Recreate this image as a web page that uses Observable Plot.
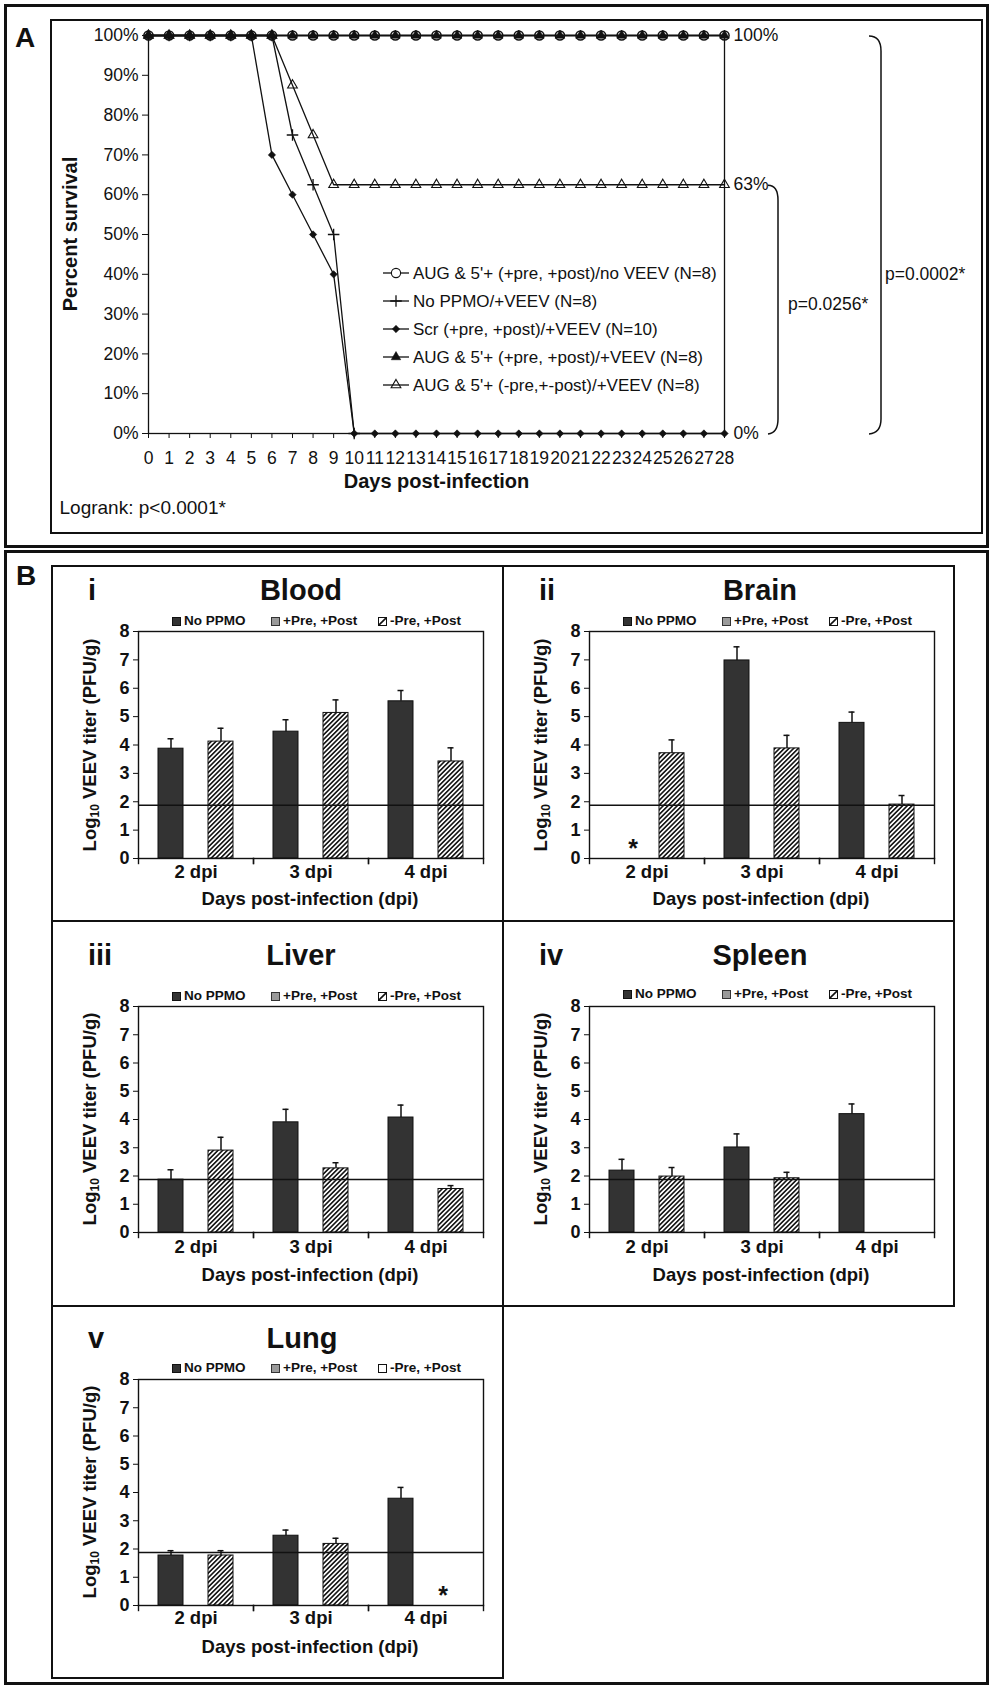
<!DOCTYPE html>
<html><head><meta charset="utf-8">
<script src="https://cdn.jsdelivr.net/npm/d3@7"></script>
<script src="https://cdn.jsdelivr.net/npm/@observablehq/plot@0.6"></script>
<style>
body{margin:0;background:#fff;}
#fig{position:relative;width:993px;height:1686px;font-family:"Liberation Sans",Arial,Helvetica,sans-serif;color:#111;overflow:hidden;background:#fff;}
.box{position:absolute;box-sizing:border-box;border-style:solid;border-color:#111;pointer-events:none;}
.t{position:absolute;white-space:nowrap;line-height:1;}
.sw{position:absolute;box-sizing:border-box;width:9px;height:9px;border:1px solid #111;}
</style></head><body>
<svg width="0" height="0" style="position:absolute">
<defs>
<pattern id="hatch" patternUnits="userSpaceOnUse" width="3.3" height="3.3" patternTransform="rotate(45)">
<rect width="3.3" height="3.3" fill="#fff"/>
<line x1="1.65" y1="-1" x2="1.65" y2="4.3" stroke="#111" stroke-width="1.6"/>
</pattern>
</defs></svg>
<div id="fig"></div>
<script>
// ---------------- DATA: panel A (survival) ----------------
const days = [0,1,2,3,4,5,6,7,8,9,10,11,12,13,14,15,16,17,18,19,20,21,22,23,24,25,26,27,28];
const yTicksA = [0,10,20,30,40,50,60,70,80,90,100];
const survivalSeries = [
  "AUG & 5'+ (+pre, +post)/no VEEV (N=8)",
  "No PPMO/+VEEV (N=8)",
  "Scr (+pre, +post)/+VEEV (N=10)",
  "AUG & 5'+ (+pre, +post)/+VEEV (N=8)",
  "AUG & 5'+ (-pre,+-post)/+VEEV (N=8)"
];
const survAugNoVeev  = [100,100,100,100,100,100,100,100,100,100,100,100,100,100,100,100,100,100,100,100,100,100,100,100,100,100,100,100,100];
const survNoPpmo     = [100,100,100,100,100,100,100,75,62.5,50,0];
const survScr        = [100,100,100,100,100,100,70,60,50,40,0,0,0,0,0,0,0,0,0,0,0,0,0,0,0,0,0,0,0];
const survAugPrePost = [100,100,100,100,100,100,100,100,100,100,100,100,100,100,100,100,100,100,100,100,100,100,100,100,100,100,100,100,100];
const survAugPost    = [100,100,100,100,100,100,100,87.5,75,62.5,62.5,62.5,62.5,62.5,62.5,62.5,62.5,62.5,62.5,62.5,62.5,62.5,62.5,62.5,62.5,62.5,62.5,62.5,62.5];
const logrankText = "Logrank: p<0.0001*";
const pLabels = ["p=0.0256*", "p=0.0002*"];
const pFrom = [62.5, 100];
const pTo = [0, 0];

// ---------------- DATA: panel B (titers) ----------------
const dpi = ["2 dpi", "3 dpi", "4 dpi"];
const treatments = ["No PPMO", "+Pre, +Post", "-Pre, +Post"];
const yTicksB = [0,1,2,3,4,5,6,7,8];
const detectionLimit = 1.88;
const prePostTiter = [null, null, null];

const bloodNoPPMO = [3.87, 4.47, 5.54],  bloodNoPPMOErr = [0.35, 0.42, 0.38];
const bloodMinusPre = [4.12, 5.13, 3.42], bloodMinusPreErr = [0.47, 0.46, 0.48];
const brainNoPPMO = [null, 6.98, 4.78],   brainNoPPMOErr = [null, 0.48, 0.38];
const brainMinusPre = [3.71, 3.88, 1.90], brainMinusPreErr = [0.47, 0.46, 0.32];
const liverNoPPMO = [1.87, 3.90, 4.07],   liverNoPPMOErr = [0.35, 0.46, 0.44];
const liverMinusPre = [2.90, 2.27, 1.54], liverMinusPreErr = [0.47, 0.20, 0.12];
const spleenNoPPMO = [2.19, 3.01, 4.19],  spleenNoPPMOErr = [0.40, 0.48, 0.36];
const spleenMinusPre = [1.98, 1.92, null],spleenMinusPreErr = [0.32, 0.21, null];
const lungNoPPMO = [1.77, 2.47, 3.78],    lungNoPPMOErr = [0.17, 0.20, 0.40];
const lungMinusPre = [1.77, 2.18, null],  lungMinusPreErr = [0.17, 0.20, null];
const brainStars = [["2 dpi", "No PPMO"]];
const lungStars = [["4 dpi", "-Pre, +Post"]];

// ---------------- helpers ----------------
const FONT = '"Liberation Sans", Arial, Helvetica, sans-serif';
const INK = "#111";
const fig = document.getElementById("fig");
function box(x1, y1, x2, y2, w) {
  const d = document.createElement("div");
  d.className = "box";
  Object.assign(d.style, {left: (x1 - w / 2) + "px", top: (y1 - w / 2) + "px",
    width: (x2 - x1 + w) + "px", height: (y2 - y1 + w) + "px", borderWidth: w + "px"});
  fig.appendChild(d);
}
function txt(str, x, y, o = {}) {
  const d = document.createElement("div");
  d.className = "t";
  if (o.html) d.innerHTML = str; else d.textContent = str;
  const ax = o.anchor === "start" ? "0" : o.anchor === "end" ? "-100%" : "-50%";
  Object.assign(d.style, {left: x + "px", top: y + "px", fontSize: (o.size || 17) + "px",
    fontWeight: o.weight || "normal",
    transform: `translate(${ax},-50%)` + (o.rotate ? ` rotate(${o.rotate}deg)` : "")});
  fig.appendChild(d);
  return d;
}
function place(el, x, y) {
  el.style.position = "absolute";
  el.style.left = x + "px";
  el.style.top = y + "px";
  fig.appendChild(el);
}

// ---------------- PANEL A ----------------
const survValues = [survAugNoVeev, survNoPpmo, survScr, survAugPrePost, survAugPost];
const survRows = [];
survValues.forEach((vals, s) => vals.forEach((v, i) => survRows.push({series: survivalSeries[s], day: days[i], pct: v})));
const finals = Array.from(new Set(survValues.map(v => v[v.length - 1]))).map(p => ({day: days[days.length - 1], pct: p}));
const markerStyles = [
  {symbol: "circle", r: 4.6, fill: "none", stroke: INK, strokeWidth: 1.5},
  {symbol: "plus", r: 3.8, fill: "none", stroke: INK, strokeWidth: 1.3},
  {symbol: "diamond2", r: 3.3, fill: INK, stroke: INK, strokeWidth: 0.6},
  {symbol: "triangle", r: 3.5, fill: INK, stroke: INK, strokeWidth: 0.6},
  {symbol: "triangle", r: 3.6, fill: "none", stroke: INK, strokeWidth: 1.1}
];

const bracketMark = (index, scales) => {
  const ns = "http://www.w3.org/2000/svg";
  const g = document.createElementNS(ns, "g");
  const x28 = scales.x(days[days.length - 1]);
  const offs = [54, 157], labOff = [10, 4], labFrac = [0.52, 0.4], hook = [10, 12];
  pLabels.forEach((lab, k) => {
    const xb = x28 + offs[k];
    const yT = scales.y(pFrom[k]), yB = scales.y(pTo[k]);
    const h = hook[k];
    const p = document.createElementNS(ns, "path");
    p.setAttribute("d", `M${xb - h},${yT + 1} Q${xb},${yT + 1} ${xb},${yT + 16} L${xb},${yB - 14} Q${xb},${yB} ${xb - h},${yB + 1}`);
    p.setAttribute("fill", "none"); p.setAttribute("stroke", INK); p.setAttribute("stroke-width", "1.5");
    g.appendChild(p);
    const t = document.createElementNS(ns, "text");
    t.setAttribute("x", xb + labOff[k]);
    t.setAttribute("y", yT + (yB - yT) * (1 - labFrac[k]));
    t.setAttribute("dy", "0.35em");
    t.setAttribute("text-anchor", "start");
    t.setAttribute("font-size", "17.5");
    t.textContent = lab;
    g.appendChild(t);
  });
  return g;
};

const plotA = Plot.plot({
  width: 929, height: 512,
  marginLeft: 96, marginRight: 257, marginTop: 15, marginBottom: 99,
  style: {fontFamily: FONT, fontSize: "17.5px", color: INK, background: "transparent", overflow: "visible"},
  x: {domain: [days[0], days[days.length - 1]], ticks: days, tickSize: 5, tickPadding: 13, tickFormat: d => String(d), label: null},
  y: {domain: [0, 100], ticks: yTicksA, tickSize: 6, tickPadding: 4, tickFormat: d => d + "%", label: null},
  marks: [
    Plot.frame({stroke: INK, strokeWidth: 1.3}),
    Plot.line(survRows, {x: "day", y: "pct", z: "series", stroke: INK, strokeWidth: 1.3}),
    ...survivalSeries.map((name, s) => Plot.dot(survRows.filter(d => d.series === name), {x: "day", y: "pct", ...markerStyles[s]})),
    Plot.text(finals, {x: "day", y: "pct", text: d => Math.round(d.pct) + "%", dx: 9, textAnchor: "start"}),
    Plot.text(["Days post-infection"], {text: d => d, frameAnchor: "bottom", dy: 54, fontWeight: "bold", fontSize: 20}),
    Plot.text([logrankText], {text: d => d, frameAnchor: "bottom-left", dx: -89, dy: 80, textAnchor: "start", fontSize: 19}),
    bracketMark
  ]
});
place(plotA, 52, 20);
txt("Percent survival", 70, 234, {size: 20, weight: "bold", rotate: -90});

// legend A
survivalSeries.forEach((name, s) => {
  const y = 273 + s * 28;
  const ns = "http://www.w3.org/2000/svg";
  const sv = document.createElementNS(ns, "svg");
  sv.setAttribute("width", 28); sv.setAttribute("height", 16);
  sv.style.position = "absolute"; sv.style.left = "382px"; sv.style.top = (y - 8) + "px";
  const ln = document.createElementNS(ns, "line");
  ln.setAttribute("x1", 1); ln.setAttribute("x2", 27); ln.setAttribute("y1", 8); ln.setAttribute("y2", 8);
  ln.setAttribute("stroke", INK); ln.setAttribute("stroke-width", 1.3);
  sv.appendChild(ln);
  const ms = markerStyles[s];
  const types = {circle: d3.symbolCircle, plus: d3.symbolPlus, diamond2: d3.symbolDiamond2, triangle: d3.symbolTriangle};
  const p = document.createElementNS(ns, "path");
  p.setAttribute("d", d3.symbol(types[ms.symbol], Math.PI * ms.r * ms.r)());
  p.setAttribute("transform", "translate(14,8)");
  p.setAttribute("fill", ms.symbol === "circle" ? "#fff" : ms.fill);
  p.setAttribute("stroke", ms.stroke); p.setAttribute("stroke-width", ms.symbol === "circle" ? 1.1 : ms.strokeWidth);
  sv.appendChild(p);
  fig.appendChild(sv);
  txt(name, 413, y, {anchor: "start", size: 17});
});

// ---------------- PANEL B ----------------
function barPanel(c) {
  const rows = [];
  dpi.forEach((d, i) => {
    if (c.noPPMO[i] != null) rows.push({day: d, treatment: treatments[0], value: c.noPPMO[i], err: c.noPPMOErr[i]});
    if (prePostTiter[i] != null) rows.push({day: d, treatment: treatments[1], value: prePostTiter[i], err: 0});
    if (c.minusPre[i] != null) rows.push({day: d, treatment: treatments[2], value: c.minusPre[i], err: c.minusPreErr[i]});
  });
  const stars = (c.stars || []).map(([day, t]) => ({day, treatment: t}));
  const plotH = c.h - c.mt - c.mb;
  const svg = Plot.plot({
    width: 451, height: c.h,
    marginLeft: 85, marginRight: 20, marginTop: c.mt, marginBottom: c.mb,
    style: {fontFamily: FONT, fontSize: "18px", fontWeight: "bold", color: INK, background: "transparent", overflow: "visible"},
    fx: {domain: dpi, padding: 0, axis: null},
    x: {domain: treatments, paddingInner: 0, paddingOuter: 0.72, axis: null},
    y: {domain: [0, 8], ticks: yTicksB, tickSize: 5, tickPadding: 4, label: null},
    color: {domain: treatments, range: ["#333", "#999", "url(#hatch)"]},
    marks: [
      Plot.barY(rows, {fx: "day", x: "treatment", y: "value", fill: "treatment", stroke: INK, strokeWidth: 1}),
      Plot.ruleY([detectionLimit], {stroke: INK, strokeWidth: 1.5}),
      Plot.ruleX(rows, {fx: "day", x: "treatment", y1: "value", y2: d => d.value + d.err, stroke: INK, strokeWidth: 1.5}),
      Plot.tickY(rows, {fx: "day", x: "treatment", y: d => d.value + d.err, insetLeft: 9.5, insetRight: 9.5, stroke: INK, strokeWidth: 1.5}),
      Plot.text(stars, {fx: "day", x: "treatment", y: () => 0, text: () => "*", fontSize: 25, lineAnchor: "bottom", dy: -2, dx: c.starDx || 0}),
      Plot.text(dpi, {fx: d => d, text: d => d, frameAnchor: "bottom", dy: c.tickDy, fontSize: 18.5}),
      Plot.frame({facet: "super", stroke: INK, strokeWidth: 1.4}),
      Plot.frame({anchor: "left", insetTop: plotH, insetBottom: -5, stroke: INK, strokeWidth: 1.4}),
      Plot.frame({anchor: "right", insetTop: plotH, insetBottom: -5, stroke: INK, strokeWidth: 1.4})
    ]
  });
  place(svg, c.left, c.top);
  // texts
  txt(c.num, c.left + 36, c.top + c.titleY, {anchor: "start", size: 29, weight: "bold"});
  txt(c.organ, c.left + c.titleX, c.top + c.titleY, {size: 29, weight: "bold"});
  const legX = [120, 219, 326];
  treatments.forEach((t, k) => {
    const sw = document.createElement("div");
    sw.className = "sw";
    sw.style.left = (c.left + legX[k]) + "px";
    sw.style.top = (c.top + c.legendY - 4.5) + "px";
    if (k === 0) sw.style.background = "#333";
    if (k === 1) { sw.style.background = "#9a9a9a"; sw.style.borderColor = "#333"; }
    if (k === 2) sw.style.background = c.plainThird ? "#fff" : "url('data:image/svg+xml;utf8,<svg xmlns=%22http://www.w3.org/2000/svg%22 width=%227%22 height=%227%22><path d=%22M0,7 L7,0%22 stroke=%22%23111%22 stroke-width=%221.6%22/></svg>')";
    fig.appendChild(sw);
    txt(t, c.left + legX[k] + 12, c.top + c.legendY, {anchor: "start", size: 13.5, weight: "bold"});
  });
  txt("Log<sub style='font-size:12px;vertical-align:-3px;line-height:0'>10</sub> VEEV titer (PFU/g)",
      c.left + 38, c.top + c.mt + plotH / 2, {html: true, size: 18.5, weight: "bold", rotate: -90});
  txt("Days post-infection (dpi)", c.left + 258, c.top + c.xTitleY, {size: 18.5, weight: "bold"});
}

barPanel({organ: "Blood", num: "i", left: 52, top: 566, h: 355, mt: 65, mb: 63, titleY: 24, legendY: 55, tickDy: 19, xTitleY: 333, titleX: 249,
  noPPMO: bloodNoPPMO, noPPMOErr: bloodNoPPMOErr, minusPre: bloodMinusPre, minusPreErr: bloodMinusPreErr});
barPanel({organ: "Brain", num: "ii", left: 503, top: 566, h: 355, mt: 65, mb: 63, titleY: 24, legendY: 55, tickDy: 19, xTitleY: 333, titleX: 257,
  noPPMO: brainNoPPMO, noPPMOErr: brainNoPPMOErr, minusPre: brainMinusPre, minusPreErr: brainMinusPreErr, stars: brainStars, starDx: 11});
barPanel({organ: "Liver", num: "iii", left: 52, top: 921, h: 385, mt: 85, mb: 74, titleY: 34, legendY: 75, tickDy: 20, xTitleY: 354, titleX: 249,
  noPPMO: liverNoPPMO, noPPMOErr: liverNoPPMOErr, minusPre: liverMinusPre, minusPreErr: liverMinusPreErr});
barPanel({organ: "Spleen", num: "iv", left: 503, top: 921, h: 385, mt: 85, mb: 74, titleY: 34, legendY: 73, tickDy: 20, xTitleY: 354, titleX: 257,
  noPPMO: spleenNoPPMO, noPPMOErr: spleenNoPPMOErr, minusPre: spleenMinusPre, minusPreErr: spleenMinusPreErr});
barPanel({organ: "Lung", num: "v", left: 52, top: 1306, h: 372, mt: 73, mb: 73, titleY: 32, legendY: 62, tickDy: 18, xTitleY: 341, titleX: 250,
  noPPMO: lungNoPPMO, noPPMOErr: lungNoPPMOErr, minusPre: lungMinusPre, minusPreErr: lungMinusPreErr, stars: lungStars, starDx: -8, plainThird: true});

// ---------------- frames & panel letters ----------------
box(5.5, 5.5, 987.5, 546, 3);
box(51, 20, 981.5, 532.5, 2);
box(5.5, 551.5, 987.5, 1683.5, 3);
box(52, 566, 503, 921, 2.5);
box(503, 566, 954, 921, 2.5);
box(52, 921, 503, 1306, 2.5);
box(503, 921, 954, 1306, 2.5);
box(52, 1306, 503, 1678, 2.5);
txt("A", 15, 38, {anchor: "start", size: 28, weight: "bold"});
txt("B", 16, 576, {anchor: "start", size: 28, weight: "bold"});
</script>
</body></html>
